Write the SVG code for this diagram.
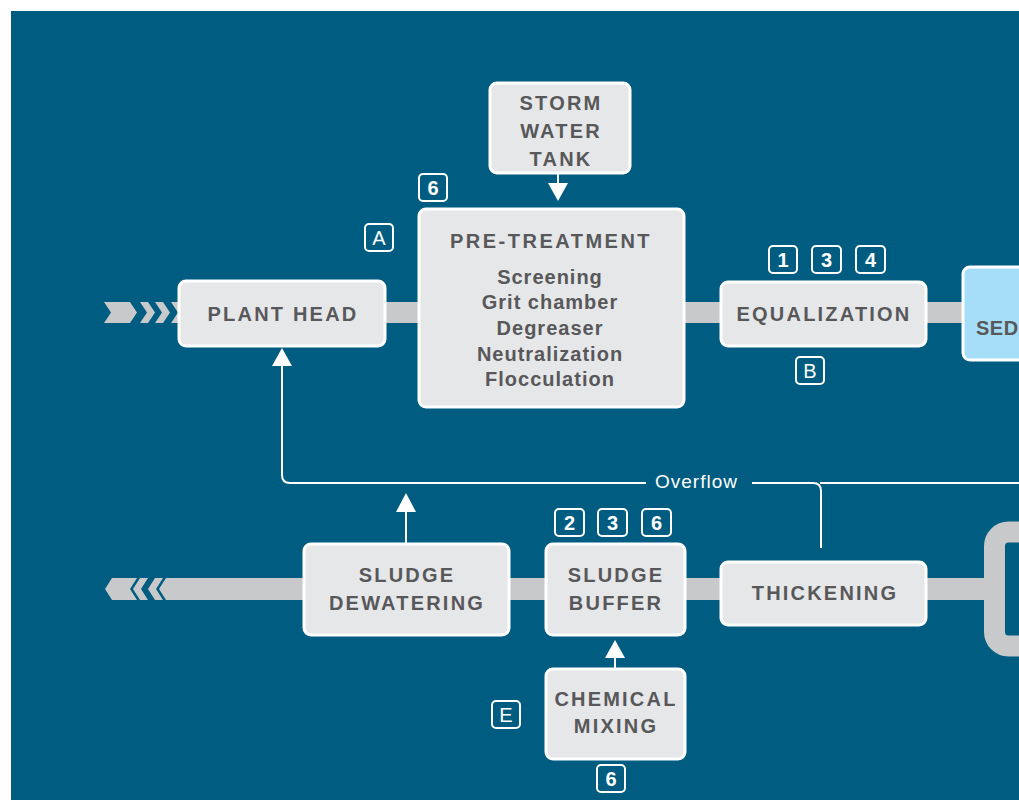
<svg xmlns="http://www.w3.org/2000/svg" width="1019" height="800" viewBox="0 0 1019 800">
<style>
.bg{fill:#005c80}
.pipe{fill:#c8c9cb}
.box{fill:#e6e7e9;stroke:#ffffff;stroke-width:3}
.sed{fill:#a6def7;stroke:#ffffff;stroke-width:3}
.t{font-family:"Liberation Sans",Arial,sans-serif;font-weight:bold;font-size:20px;fill:#58585a;text-anchor:middle;letter-spacing:2.2px}
.s{font-family:"Liberation Sans",Arial,sans-serif;font-weight:bold;font-size:20px;fill:#58585a;text-anchor:middle;letter-spacing:1px}
.badge rect{fill:none;stroke:#ffffff;stroke-width:2}
.badge text{font-family:"Liberation Sans",Arial,sans-serif;font-weight:bold;font-size:20px;fill:#ffffff;text-anchor:middle}
.line{fill:none;stroke:#ffffff;stroke-width:2}
.ah{fill:#ffffff}
.ov{font-family:"Liberation Sans",Arial,sans-serif;font-size:19px;fill:#ffffff;letter-spacing:1px}
</style>
<rect x="0" y="0" width="1019" height="800" fill="#ffffff"/>
<rect class="bg" x="11" y="11" width="1008" height="789"/>

<g id="pipes">
  <polygon class="pipe" points="104,302 130,302 137,312.5 130,323 104,323 111,312.5"/>
  <polygon class="pipe" points="140,302 148,302 155,312.5 148,323 140,323 147,312.5"/>
  <polygon class="pipe" points="155,302 163,302 170,312.5 163,323 155,323 162,312.5"/>
  <polygon class="pipe" points="171,302 965,302 965,323 171,323 178,312.5"/>
  <polygon class="pipe" points="105,589 112,578 137,578 130,589 137,600 112,600"/>
  <polygon class="pipe" points="133,589 140,578 148,578 141,589 148,600 140,600"/>
  <polygon class="pipe" points="148,589 155,578 163,578 156,589 163,600 155,600"/>
  <polygon class="pipe" points="159,589 166,578 990,578 990,600 166,600"/>
  <rect x="994.5" y="532" width="80" height="114" rx="14" fill="none" stroke="#c8c9cb" stroke-width="21"/>
</g>

<g id="connectors">
  <path class="line" d="M282,362 V475 Q282,483 290,483 H646"/>
  <path class="line" d="M752,483 H813 Q821,483 821,491 V548"/>
  <path class="line" d="M820,483 H1019"/>
  <polygon class="ah" points="282,348 292,366 272,366"/>
  <line class="line" x1="406" y1="543" x2="406" y2="510"/>
  <polygon class="ah" points="406,493 416,512 396,512"/>
  <line class="line" x1="615" y1="668" x2="615" y2="655"/>
  <polygon class="ah" points="615,640 625,658 605,658"/>
  <line class="line" x1="558" y1="173" x2="558" y2="186"/>
  <polygon class="ah" points="558,201 548,183 568,183"/>
  <text class="ov" x="655" y="488">Overflow</text>
</g>

<g id="plant-head">
  <rect class="box" x="179" y="281" width="206" height="65" rx="7"/>
  <text class="t" x="283" y="321">PLANT HEAD</text>
</g>

<g id="storm-water-tank">
  <rect class="box" x="490" y="83" width="140" height="90" rx="7"/>
  <text class="t" x="561" y="110">STORM</text>
  <text class="t" x="561" y="138">WATER</text>
  <text class="t" x="561" y="166">TANK</text>
</g>

<g id="pre-treatment">
  <rect class="box" x="419" y="209" width="265" height="198" rx="7"/>
  <text class="t" x="551" y="248" style="letter-spacing:2.5px">PRE-TREATMENT</text>
  <text class="s" x="550" y="284">Screening</text>
  <text class="s" x="550" y="309">Grit chamber</text>
  <text class="s" x="550" y="335">Degreaser</text>
  <text class="s" x="550" y="361">Neutralization</text>
  <text class="s" x="550" y="386">Flocculation</text>
</g>

<g id="equalization">
  <rect class="box" x="721" y="282" width="205" height="64" rx="7"/>
  <text class="t" x="824" y="321">EQUALIZATION</text>
</g>

<g id="sedimentation">
  <rect class="sed" x="963" y="267" width="80" height="93" rx="7"/>
  <text class="t" x="976" y="335" style="text-anchor:start;letter-spacing:0.5px">SED</text>
</g>

<g id="sludge-dewatering">
  <rect class="box" x="304" y="544" width="205" height="91" rx="7"/>
  <text class="t" x="407" y="582">SLUDGE</text>
  <text class="t" x="407" y="610">DEWATERING</text>
</g>

<g id="sludge-buffer">
  <rect class="box" x="546" y="544" width="139" height="91" rx="7"/>
  <text class="t" x="616" y="582">SLUDGE</text>
  <text class="t" x="616" y="610">BUFFER</text>
</g>

<g id="thickening">
  <rect class="box" x="721" y="562" width="205" height="63" rx="7"/>
  <text class="t" x="825" y="600">THICKENING</text>
</g>

<g id="chemical-mixing">
  <rect class="box" x="546" y="669" width="139" height="90" rx="7"/>
  <text class="t" x="616" y="706">CHEMICAL</text>
  <text class="t" x="616" y="733">MIXING</text>
</g>

<g id="badges">
  <g class="badge"><rect x="419" y="174" width="28" height="27" rx="4"/><text x="433" y="195">6</text></g>
  <g class="badge"><rect x="365" y="224" width="28" height="27" rx="4"/><text x="379" y="245" style="font-weight:normal">A</text></g>
  <g class="badge"><rect x="769" y="246" width="28" height="27" rx="4"/><text x="783" y="267">1</text></g>
  <g class="badge"><rect x="812" y="246" width="29" height="27" rx="4"/><text x="826.5" y="267">3</text></g>
  <g class="badge"><rect x="856" y="246" width="29" height="27" rx="4"/><text x="870.5" y="267">4</text></g>
  <g class="badge"><rect x="796" y="357" width="28" height="27" rx="4"/><text x="810" y="378" style="font-weight:normal">B</text></g>
  <g class="badge"><rect x="555" y="509" width="29" height="27" rx="4"/><text x="569.5" y="530">2</text></g>
  <g class="badge"><rect x="598" y="509" width="29" height="27" rx="4"/><text x="612.5" y="530">3</text></g>
  <g class="badge"><rect x="642" y="509" width="29" height="27" rx="4"/><text x="656.5" y="530">6</text></g>
  <g class="badge"><rect x="492" y="701" width="28" height="27" rx="4"/><text x="506" y="722" style="font-weight:normal">E</text></g>
  <g class="badge"><rect x="597" y="765" width="28" height="27" rx="4"/><text x="611" y="786">6</text></g>
</g>
</svg>
